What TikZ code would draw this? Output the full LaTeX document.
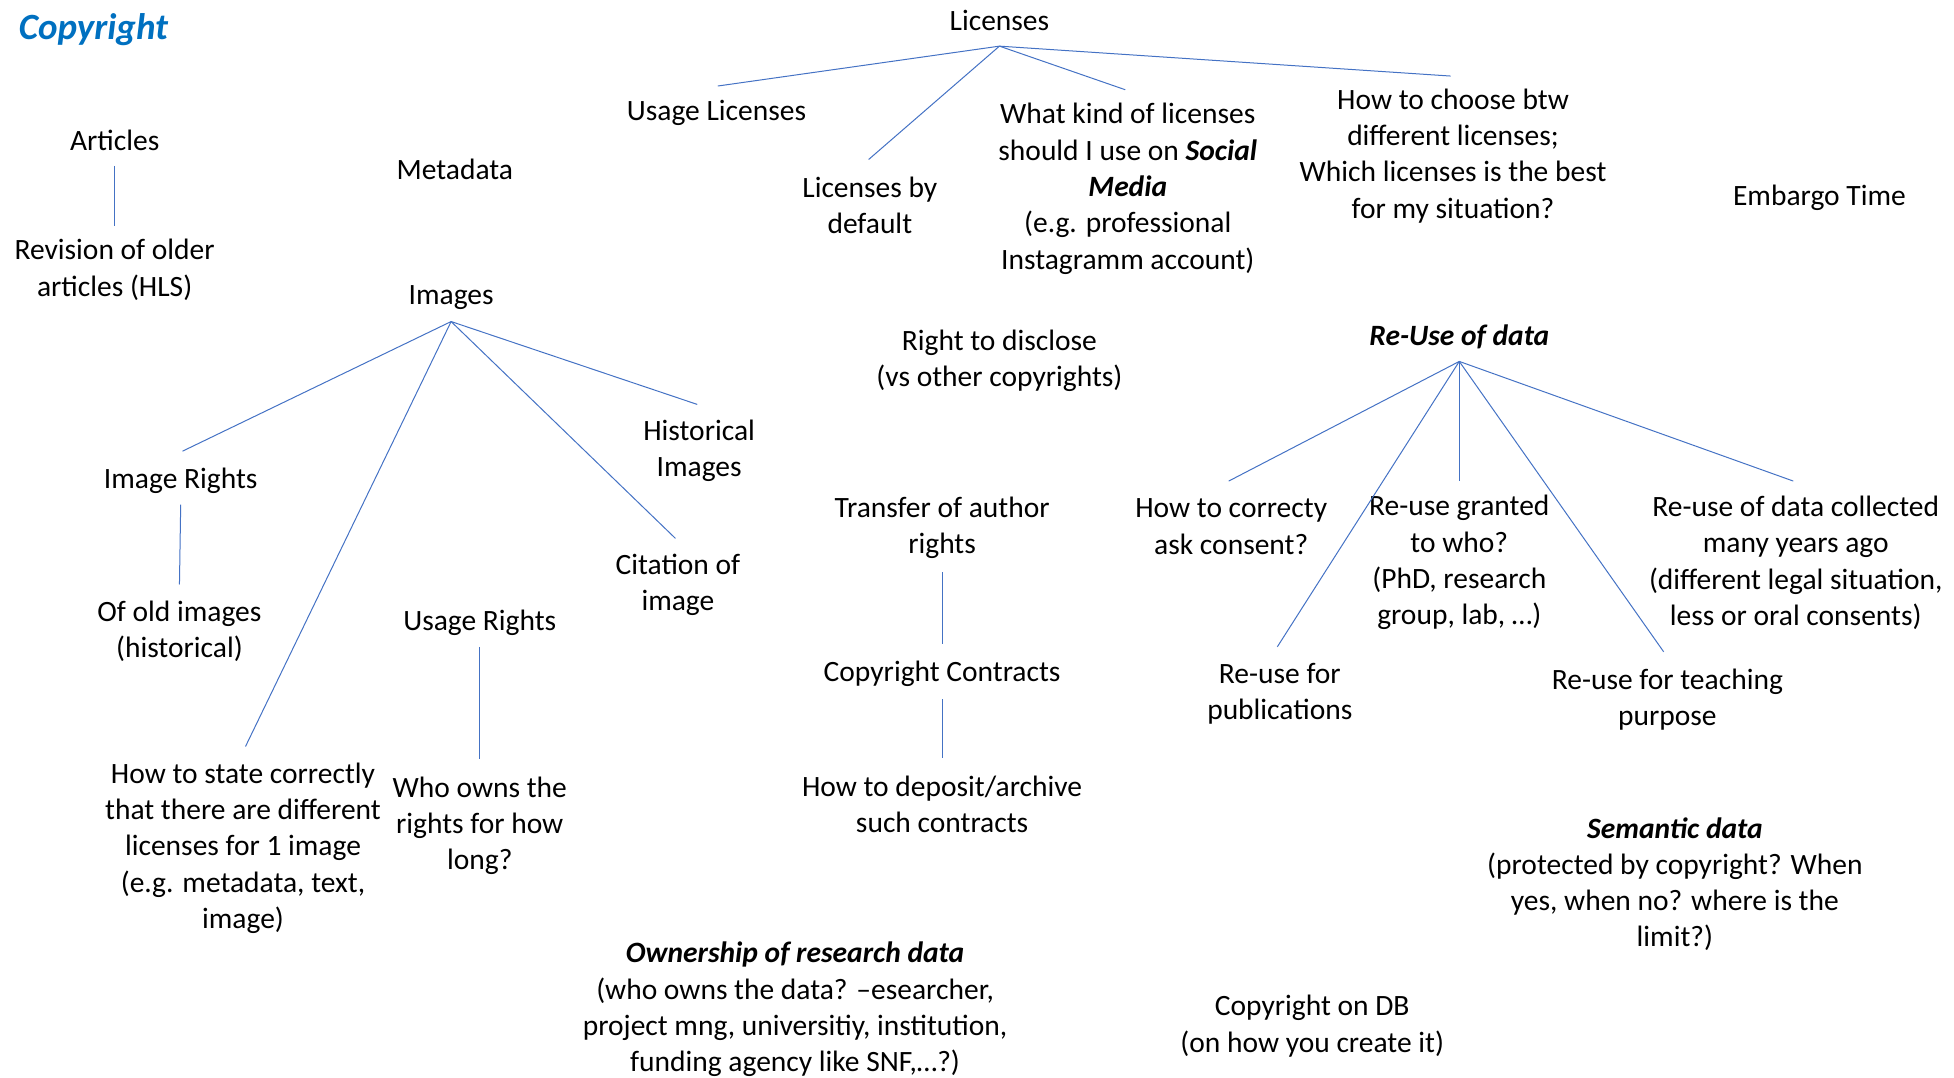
\documentclass[tikz,border=0pt]{standalone}
\usepackage{fontspec}
\setmainfont{Carlito}
\usetikzlibrary{calc}
\definecolor{linkblue}{HTML}{4472C4}
\definecolor{titleblue}{HTML}{0070C0}
\begin{document}
\begin{tikzpicture}[x=1.24617pt,y=-1.24617pt,
  lbl/.style={align=center, inner sep=0pt, font=\fontsize{29.5}{36.3}\selectfont},
  conn/.style={draw=linkblue, line width=1pt}]
\useasboundingbox (0,0) rectangle (1568,864.25);

\node[anchor=west, inner sep=0pt, text=titleblue, font=\fontsize{37}{44}\selectfont\bfseries\itshape] (title) at (15,24) {Copyright};

\begin{scope}[yshift=-1.9pt]
% Licenses branch
\node[lbl] (lic)  at (802,15)  {Licenses};
\node[lbl] (ulic) at (575,89)  {Usage Licenses};
\node[lbl] (ldef) at (698,163) {Licenses by\\default};
\node[lbl] (wk)   at (905,150) {What kind of licenses\\should I use on \textbf{\textit{Social}}\\\textbf{\textit{Media}}\\(e.g. professional\\Instagramm account)};
\node[lbl] (htc)  at (1166,123.5) {How to choose btw\\different licenses;\\Which licenses is the best\\for my situation?};
\node[lbl] (emb)  at (1460,157) {Embargo Time};

% Articles
\node[lbl] (art)  at (92,111) {Articles};
\node[lbl] (rev)  at (92,215) {Revision of older\\articles (HLS)};
\node[lbl] (meta) at (365,134) {Metadata};

% Images branch
\node[lbl] (img)  at (362,237) {Images};
\node[lbl] (hist) at (561,360) {Historical\\Images};
\node[lbl] (irt)  at (145,384) {Image Rights};
\node[lbl] (cit)  at (544,468) {Citation of\\image};
\node[lbl] (old)  at (144,505) {Of old images\\(historical)};
\node[lbl] (urt)  at (385,498) {Usage Rights};
\node[lbl] (hts)  at (195,679) {How to state correctly\\that there are different\\licenses for 1 image\\(e.g. metadata, text,\\image)};
\node[lbl] (who)  at (385,661) {Who owns the\\rights for how\\long?};

% Middle column
\node[lbl] (rtd)  at (802,288) {Right to disclose\\(vs other copyrights)};
\node[lbl] (tra)  at (756,422) {Transfer of author\\rights};
\node[lbl] (ccon) at (756,539) {Copyright Contracts};
\node[lbl] (dep)  at (756,644) {How to deposit/archive\\such contracts};
\node[lbl] (own)  at (638,808.5) {\textbf{\textit{Ownership of research data}}\\(who owns the data? –esearcher,\\project mng, universitiy, institution,\\funding agency like SNF,…?)};
\node[lbl] (cdb)  at (1053,822) {Copyright on DB\\(on how you create it)};

% Re-Use branch
\node[lbl] (reu)  at (1171,269) {\textbf{\textit{Re-Use of data}}};
\node[lbl] (ask)  at (988,421) {How to correcty\\ask consent?};
\node[lbl] (grt)  at (1171,450) {Re-use granted\\to who?\\(PhD, research\\group, lab, …)};
\node[lbl] (col)  at (1441,450) {Re-use of data collected\\many years ago\\(different legal situation,\\less or oral consents)};
\node[lbl] (pub)  at (1027,555) {Re-use for\\publications};
\node[lbl] (tea)  at (1338,560) {Re-use for teaching\\purpose};
\node[lbl] (sem)  at (1344,708) {\textbf{\textit{Semantic data}}\\(protected by copyright? When\\yes, when no? where is the\\limit?)};
\end{scope}

% connectors: Licenses
\draw[conn] ($(lic.center)+(0,20.5)$) -- ($(ulic.center)+(1,-21.5)$);
\draw[conn] ($(lic.center)+(0,20.5)$) -- ($(ldef.center)+(-1,-36.5)$);
\draw[conn] ($(lic.center)+(0,20.5)$) -- ($(wk.center)+(-2,-79.5)$);
\draw[conn] ($(lic.center)+(0,20.5)$) -- ($(htc.center)+(-2,-64)$);

% connectors: Articles
\draw[conn] ($(art.center)+(0,20.5)$) -- ($(rev.center)+(0,-35.5)$);

% connectors: Images
\draw[conn] ($(img.center)+(0,19.5)$) -- ($(irt.center)+(1.5,-23.5)$);
\draw[conn] ($(img.center)+(0,19.5)$) -- ($(hts.center)+(2,-81.5)$);
\draw[conn] ($(img.center)+(0,19.5)$) -- ($(cit.center)+(-2,-37.5)$);
\draw[conn] ($(img.center)+(0,19.5)$) -- ($(hist.center)+(-1.5,-37)$);
\draw[conn] ($(irt.center)+(0,19.5)$) -- ($(old.center)+(0,-37.5)$);
\draw[conn] ($(urt.center)+(0,19.5)$) -- ($(who.center)+(0,-53.5)$);

% connectors: contracts
\draw[conn] ($(tra.center)+(0,35.5)$) -- ($(ccon.center)+(0,-23.5)$);
\draw[conn] ($(ccon.center)+(0,20.5)$) -- ($(dep.center)+(0,-37.5)$);

% connectors: Re-Use
\draw[conn] ($(reu.center)+(0,19.5)$) -- ($(ask.center)+(-2,-36.5)$);
\draw[conn] ($(reu.center)+(0,19.5)$) -- ($(grt.center)+(0,-65.5)$);
\draw[conn] ($(reu.center)+(0,19.5)$) -- ($(pub.center)+(-2,-37.5)$);
\draw[conn] ($(reu.center)+(0,19.5)$) -- ($(tea.center)+(-3,-38.5)$);
\draw[conn] ($(reu.center)+(0,19.5)$) -- ($(col.center)+(-2,-65.5)$);
\end{tikzpicture}
\end{document}
